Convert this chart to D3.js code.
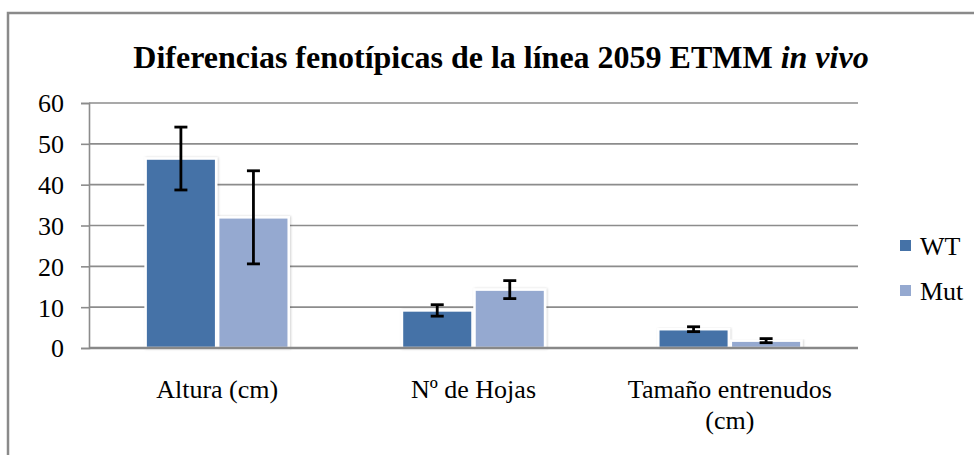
<!DOCTYPE html>
<html><head><meta charset="utf-8">
<script src="https://cdn.jsdelivr.net/npm/d3@7"></script>
<style>body{margin:0;background:#fff}svg{display:block}</style>
</head><body>
<svg id="c" width="974" height="455"></svg>
<script>
const categories = [["Altura (cm)"], ["Nº de Hojas"], ["Tamaño entrenudos", "(cm)"]];
const categoryKeys = ["Altura (cm)", "Nº de Hojas", "Tamaño entrenudos (cm)"];
const seriesNames = ["WT", "Mut"];
const wtValues = [46.4, 9.2, 4.6];
const wtErrors = [7.7, 1.4, 0.6];
const mutValues = [32.0, 14.3, 1.8];
const mutErrors = [11.4, 2.2, 0.5];
const yTicks = [0, 10, 20, 30, 40, 50, 60];
const colors = ["#4572A7", "#95A9D0"];

const svg = d3.select("#c");
const FF = '"Liberation Serif"';

// outer frame
svg.append("rect").attr("x", 8).attr("y", 13).attr("width", 1000).attr("height", 500)
  .attr("fill", "none").attr("stroke", "#8a8a8a").attr("stroke-width", 2.5);

// title
const title = svg.append("text").attr("x", 501).attr("y", 68).attr("text-anchor", "middle")
  .style("font-family", FF).style("font-weight", "bold").style("font-size", "32px").attr("fill", "#000");
title.append("tspan").style("font-family", FF).text("Diferencias fenotípicas de la línea 2059 ETMM ");
title.append("tspan").style("font-family", FF).style("font-style", "italic").text("in vivo");

const x0 = d3.scaleBand().domain(categoryKeys).range([89, 858]).paddingInner(0.434).paddingOuter(0.217);
const x1 = d3.scaleBand().domain(seriesNames).range([0, x0.bandwidth()]);
const y = d3.scaleLinear().domain([0, 60]).range([348, 103]);

// gridlines
svg.append("g").selectAll("line").data(yTicks.filter(d => d > 0)).join("line")
  .attr("x1", 89).attr("x2", 858).attr("y1", d => y(d)).attr("y2", d => y(d))
  .attr("stroke", "#8c8c8c").attr("stroke-width", 1.6);

// y axis
const yAxis = svg.append("g").attr("transform", "translate(89,0)")
  .call(d3.axisLeft(y).tickValues(yTicks).tickSize(8).tickPadding(17));
yAxis.attr("font-family", null).attr("font-size", null);
yAxis.select(".domain").attr("stroke", "#8c8c8c").attr("stroke-width", 1.6);
yAxis.selectAll(".tick line").attr("stroke", "#8c8c8c").attr("stroke-width", 1.6);
yAxis.selectAll(".tick text").style("font-family", FF).style("font-size", "26px").attr("fill", "#000").attr("dy", "0.34em");

// bars
const rows = categoryKeys.map((k, i) => ({
  key: k,
  vals: [
    {s: "WT", v: wtValues[i], e: wtErrors[i], c: colors[0]},
    {s: "Mut", v: mutValues[i], e: mutErrors[i], c: colors[1]}
  ]
}));
const defs = svg.append("defs");
const f = defs.append("filter").attr("id", "sh").attr("x", "-10%").attr("y", "-10%").attr("width", "120%").attr("height", "120%");
f.append("feDropShadow").attr("dx", 1).attr("dy", 0).attr("stdDeviation", 1.2).attr("flood-color", "#000").attr("flood-opacity", 0.18);

const g = svg.append("g").selectAll("g").data(rows).join("g")
  .attr("transform", d => `translate(${x0(d.key)},0)`);
g.selectAll("rect").data(d => d.vals).join("rect")
  .attr("x", d => x1(d.s) + 1).attr("width", x1.bandwidth() - 2)
  .attr("y", d => y(d.v)).attr("height", d => y(0) - y(d.v))
  .attr("fill", d => d.c).attr("stroke", "#fff").attr("stroke-width", 2.5)
  .attr("filter", "url(#sh)");

// baseline
svg.append("line").attr("x1", 89).attr("x2", 858).attr("y1", y(0)).attr("y2", y(0))
  .attr("stroke", "#888").attr("stroke-width", 2.5);

// error bars
const eb = g.selectAll("g.eb").data(d => d.vals).join("g").attr("class", "eb")
  .attr("transform", d => `translate(${x1(d.s) + x1.bandwidth() / 2},0)`)
  .attr("stroke", "#000").attr("stroke-width", 2.8);
eb.append("line").attr("y1", d => y(d.v + d.e)).attr("y2", d => y(d.v - d.e));
eb.append("line").attr("x1", -6.5).attr("x2", 6.5).attr("y1", d => y(d.v + d.e)).attr("y2", d => y(d.v + d.e));
eb.append("line").attr("x1", -6.5).attr("x2", 6.5).attr("y1", d => y(d.v - d.e)).attr("y2", d => y(d.v - d.e));

// category labels
svg.append("g").selectAll("text").data(categories).join("text")
  .attr("x", (d, i) => x0(categoryKeys[i]) + x0.bandwidth() / 2).attr("y", 398)
  .attr("text-anchor", "middle").style("font-family", FF).style("font-size", "26px").attr("fill", "#000")
  .each(function(d) {
    d3.select(this).selectAll("tspan").data(d).join("tspan")
      .attr("x", d3.select(this).attr("x")).attr("dy", (t, j) => j === 0 ? 0 : 31)
      .style("font-family", FF).text(t => t);
  });

// legend
const lg = svg.append("g").selectAll("g").data(seriesNames).join("g")
  .attr("transform", (d, i) => `translate(900,${240 + i * 45})`);
lg.append("rect").attr("width", 11).attr("height", 11).attr("fill", (d, i) => colors[i]);
lg.append("text").attr("x", 20).attr("y", 15).style("font-family", FF).style("font-size", "26px").attr("fill", "#000").text(d => d);
</script>
</body></html>
